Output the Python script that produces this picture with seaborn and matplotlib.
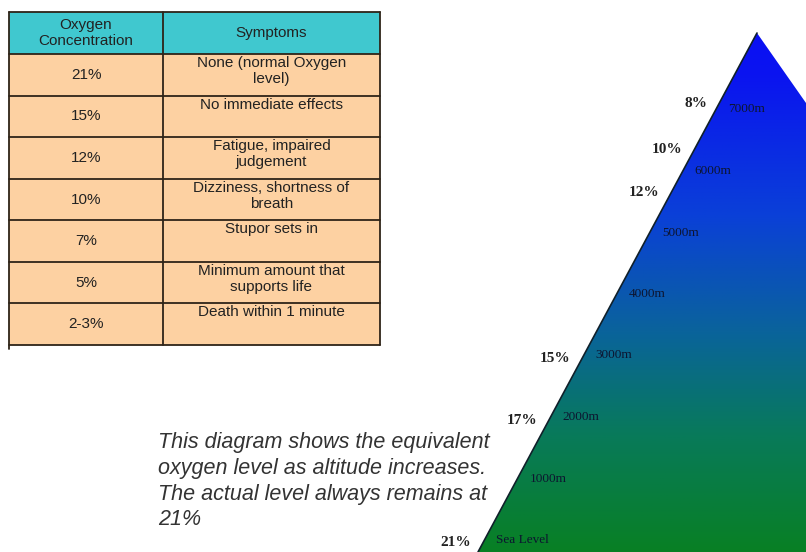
import matplotlib.pyplot as plt
import seaborn as sns
import numpy as np
from matplotlib.patches import Rectangle, Polygon
from matplotlib.colors import LinearSegmentedColormap

sns.set_style("white")
plt.rcParams["font.family"] = ["Liberation Sans", "DejaVu Sans"]

# table data
concentrations = ["21%", "15%", "12%", "10%", "7%", "5%", "2-3%"]
symptoms = ["None (normal Oxygen\nlevel)", "No immediate effects", "Fatigue, impaired\njudgement",
            "Dizziness, shortness of\nbreath", "Stupor sets in", "Minimum amount that\nsupports life",
            "Death within 1 minute"]
headers = ["Oxygen\nConcentration", "Symptoms"]

# triangle data
altitude_labels = ["Sea Level", "1000m", "2000m", "3000m", "4000m", "5000m", "6000m", "7000m"]
altitudes = [0, 1000, 2000, 3000, 4000, 5000, 6000, 7000]
equiv_pct = ["21%", "17%", "15%", "12%", "10%", "8%"]
equiv_alt = [0, 2000, 3000, 5700, 6400, 7150]

caption = ("This diagram shows the equivalent\noxygen level as altitude increases.\n"
           "The actual level always remains at\n21%")

fig = plt.figure(figsize=(8.06, 5.52), dpi=100)
ax = fig.add_axes([0, 0, 1, 1])
ax.set_xlim(0, 806)
ax.set_ylim(552, 0)
ax.axis('off')

# ---- table ----
x0, xmid, x1 = 9, 163, 380
top, head_bot, bot = 12, 54, 345
row_h = (bot - head_bot) / len(concentrations)
line_c = "#2e2418"

ax.add_patch(Rectangle((x0, top), x1 - x0, head_bot - top, facecolor="#40c8cf", edgecolor="none"))
ax.add_patch(Rectangle((x0, head_bot), x1 - x0, bot - head_bot, facecolor="#fdd1a2", edgecolor="none"))
ax.text((x0 + xmid) / 2, (top + head_bot) / 2, headers[0], ha='center', va='center',
        fontsize=11, color="#222222", linespacing=1.15)
ax.text((xmid + x1) / 2, (top + head_bot) / 2, headers[1], ha='center', va='center',
        fontsize=11, color="#222222")

for i, (c, s) in enumerate(zip(concentrations, symptoms)):
    ytop = head_bot + i * row_h
    ax.text((x0 + xmid) / 2, ytop + row_h / 2, c, ha='center', va='center', fontsize=11, color="#222222")
    ax.text((xmid + x1) / 2, ytop + 2, s, ha='center', va='top', fontsize=11, color="#222222",
            linespacing=1.2)

for i in range(len(concentrations) + 1):
    y = head_bot + i * row_h
    ax.plot([x0, x1], [y, y], color=line_c, lw=1.3)
ax.plot([x0, x1], [top, top], color=line_c, lw=1.3)
ax.plot([x0, x0], [top, bot + 4], color=line_c, lw=1.3)
ax.plot([xmid, xmid], [top, bot], color=line_c, lw=1.3)
ax.plot([x1, x1], [top, bot], color=line_c, lw=1.3)

# ---- triangle with gradient ----
apex = (757, 33)
base_left = (478, 552)
tri = Polygon([apex, base_left, (806, 552), (806, 103)], closed=True, facecolor="none",
              edgecolor="none")
ax.add_patch(tri)
stops = [0.0, 0.08, 0.35, 0.58, 0.775, 1.0]
stop_colors = ["#0a10f4", "#0a14f0", "#0a40d8", "#0a649a", "#087a5a", "#088024"]
cmap = LinearSegmentedColormap.from_list("alt", list(zip(stops, sns.color_palette(stop_colors))))
grad = np.linspace(0, 1, 256).reshape(-1, 1)
im = ax.imshow(grad, cmap=cmap, extent=[470, 806, 552, 33], aspect='auto', zorder=1)
im.set_clip_path(tri)
ax.set_xlim(0, 806)
ax.set_ylim(552, 0)
ax.plot([apex[0], base_left[0]], [apex[1], base_left[1]], color="#10202a", lw=1.2, zorder=2)


def alt_to_y(a):
    return 540 - a * 0.0615


def edge_x(y):
    return apex[0] - (y - apex[1]) * (apex[0] - base_left[0]) / (base_left[1] - apex[1])


for lab, a in zip(altitude_labels, altitudes):
    y = alt_to_y(a)
    ax.text(edge_x(y) + 12, y, lab, ha='left', va='center', fontsize=9.5,
            family="Liberation Serif", color="#0d1530", zorder=3)

for lab, a in zip(equiv_pct, equiv_alt):
    y = alt_to_y(a) + 3
    ax.text(edge_x(y) - 12, y, lab, ha='right', va='center', fontsize=11,
            family="Liberation Serif", fontweight='bold', color="#222222", zorder=3)

# ---- caption ----
ax.text(158, 432, caption, ha='left', va='top', fontsize=15.5, style='italic',
        color="#333333", linespacing=1.3)

fig.savefig("out.png", dpi=100)
